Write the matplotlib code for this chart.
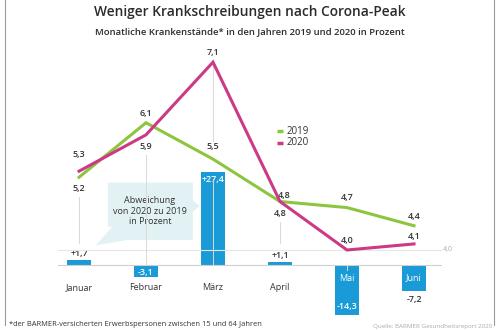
import matplotlib.pyplot as plt
from matplotlib.patches import Polygon
from matplotlib.lines import Line2D

months = ["Januar", "Februar", "März", "April", "Mai", "Juni"]
rate_2019 = [5.2, 6.1, 5.5, 4.8, 4.7, 4.4]
rate_2020 = [5.3, 5.9, 7.1, 4.8, 4.0, 4.1]
change = [1.7, -3.1, 27.4, 1.1, -14.3, -7.2]

green = "#8cc63e"
magenta = "#cc3a86"
blue = "#1a9bd7"
dark = "#333333"
grid = "#d9d9d9"

plt.rcParams["font.family"] = ["Open Sans", "DejaVu Sans"]

fig = plt.figure(figsize=(5, 3.3), dpi=100)
fig.set_facecolor("white")

# pixel layout: month i at x = 79 + 67*i
xl = (-79 / 67, (500 - 79) / 67)
x = list(range(len(months)))

# bars axis (baseline at 64 px from bottom, 3.43 px per unit)
axb = fig.add_axes([0, 0, 1, 1])
axb.set_xlim(*xl)
axb.set_ylim(-64 / 3.43, 266 / 3.43)
axb.axis("off")

# lines axis (4.0 at 80 px from bottom, 60.6 px per unit)
axl = fig.add_axes([0, 0, 1, 1])
axl.set_xlim(*xl)
axl.set_ylim(4 - 80 / 60.6, 4 + 250 / 60.6)
axl.axis("off")
axl.patch.set_alpha(0)

def fmt(v, sign=False):
    s = f"{v:+.1f}" if sign else f"{v:.1f}"
    return s.replace(".", ",")

# horizontal guides
base = 4 - 15 / 60.6
axl.plot([-0.31, 5.4], [4.0, 4.0], color="#e6e6e6", lw=0.8, zorder=0)
axl.plot([-0.31, 5.4], [base, base], color="#cfcfcf", lw=0.8, zorder=0)
axl.text(5.43, 4.0, "4,0", fontsize=5, color="#aaaaaa", va="center", ha="left")

# vertical guides (stop above small positive bar labels)
for i in x:
    lo = min(rate_2019[i], rate_2020[i])
    end = base + 0.37 if 0 < change[i] < 5 else base
    axl.plot([i, i], [lo - 0.33, end], color=grid, lw=0.7, zorder=0)
axl.plot([2, 2], [rate_2020[2], rate_2019[2] + 0.3], color=grid, lw=0.7, zorder=0)

# bars
axb.bar(x, change, width=0.36, color=blue, zorder=2)

# lines
axl.plot(x, rate_2019, color=green, lw=2.2, zorder=3, solid_joinstyle="miter")
axl.plot(x, rate_2020, color=magenta, lw=2.2, zorder=4, solid_joinstyle="miter")

lab = dict(fontsize=6.5, color=dark, ha="center", fontweight="semibold")
axl.text(0, rate_2020[0] + 0.27, fmt(rate_2020[0]), va="center", **lab)
axl.text(0, rate_2019[0] - 0.19, fmt(rate_2019[0]), va="center", **lab)
axl.text(1, rate_2019[1] + 0.15, fmt(rate_2019[1]), va="center", **lab)
axl.text(1, rate_2020[1] - 0.2, fmt(rate_2020[1]), va="center", **lab)
axl.text(2, rate_2020[2] + 0.16, fmt(rate_2020[2]), va="center", **lab)
axl.text(2, rate_2019[2] + 0.2, fmt(rate_2019[2]), va="center", **lab)
axl.text(3.06, rate_2020[3] + 0.1, fmt(rate_2020[3]), va="center", **lab)
axl.text(3, rate_2019[3] - 0.19, fmt(rate_2019[3]), va="center", **lab)
axl.text(4, rate_2019[4] + 0.17, fmt(rate_2019[4]), va="center", **lab)
axl.text(4, rate_2020[4] + 0.15, fmt(rate_2020[4]), va="center", **lab)
axl.text(5, rate_2019[5] + 0.15, fmt(rate_2019[5]), va="center", **lab)
axl.text(5, rate_2020[5] + 0.13, fmt(rate_2020[5]), va="center", **lab)

# bar value labels
white = {**lab, "color": "white"}
axb.text(0, change[0] + 0.7, fmt(change[0], True), va="bottom", **lab)
axb.text(1, change[1] / 2 - 0.2, fmt(change[1], True), va="center", **white)
axb.text(2, change[2] - 2.2, fmt(change[2], True), va="center", **white)
axb.text(3, change[3] + 0.7, fmt(change[3], True), va="bottom", **lab)
axb.text(4, change[4] + 2.4, fmt(change[4], True), va="center", **white)
axb.text(5, change[5] - 1.4, fmt(change[5], True), va="top", **lab)

# month labels
for i, m in enumerate(months):
    if change[i] < -5:
        axb.text(i, -3.5, m, ha="center", va="center", fontsize=6.5, color="white")
    else:
        axb.text(i, -6.3, m, ha="center", va="center", fontsize=6.5, color=dark)

# callout box
box = [(0.43, 24.3), (1.70, 24.3), (1.70, 19.2), (1.80, 17.5), (1.70, 15.8),
       (1.70, 7.6), (0.72, 7.6), (0.25, 6.0), (0.50, 11.5), (0.43, 11.5)]
axb.add_patch(Polygon(box, closed=True, facecolor="#e2f1f3", edgecolor="none", zorder=1))
axb.text(1.06, 16.0, "Abweichung\nvon 2020 zu 2019\nin Prozent", ha="center", va="center",
         fontsize=6.5, color=dark, linespacing=1.25, zorder=2)

# legend
axl.plot([2.95, 3.05], [5.96, 5.96], color=green, lw=2.5, solid_capstyle="butt")
axl.plot([2.95, 3.05], [5.77, 5.77], color=magenta, lw=2.5, solid_capstyle="butt")
axl.text(3.1, 5.96, "2019", fontsize=7, color=dark, va="center")
axl.text(3.1, 5.77, "2020", fontsize=7, color=dark, va="center")

# frame
for xf in (0.009, 0.987):
    fig.add_artist(Line2D([xf, xf], [0.015, 1], color="#9a9a9a", lw=0.8))

fig.text(0.499, 0.963, "Weniger Krankschreibungen nach Corona-Peak", ha="center",
         va="center", fontsize=9.9, fontweight="semibold", color="#2b2b2b")
fig.text(0.499, 0.905, "Monatliche Krankenstände* in den Jahren 2019 und 2020 in Prozent",
         ha="center", va="center", fontsize=6.8, fontweight="semibold", color="#2b2b2b")
fig.text(0.018, 0.018, "*der BARMER-versicherten Erwerbspersonen zwischen 15 und 64 Jahren",
         ha="left", va="center", fontsize=5.4, color=dark)
fig.text(0.985, 0.012, "Quelle: BARMER Gesundheitsreport 2020", ha="right", va="center",
         fontsize=4.5, color="#aaaaaa")

fig.savefig("out.png", dpi=100)
